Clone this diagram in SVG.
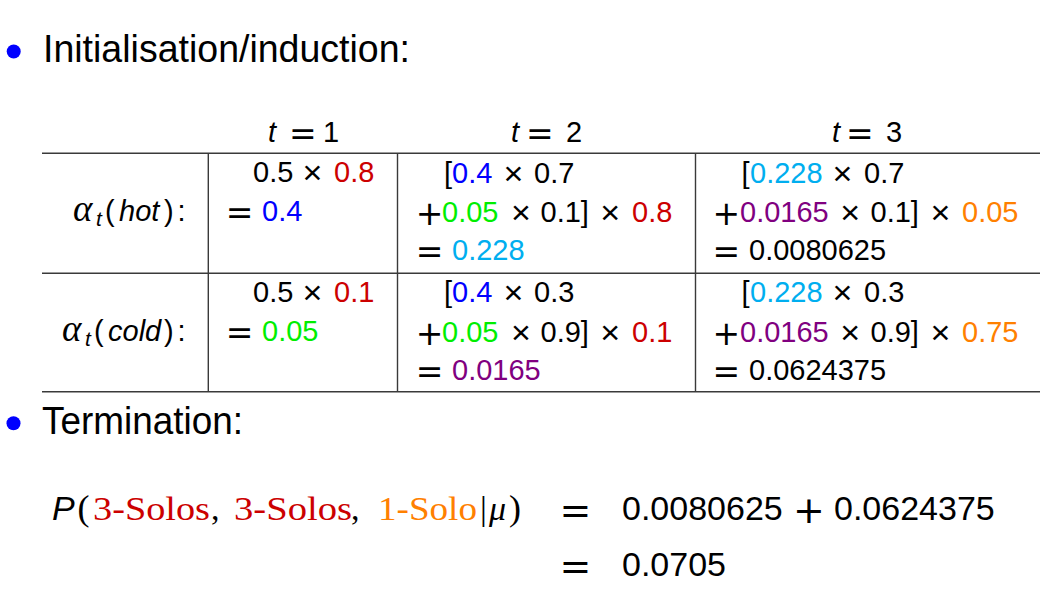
<svg xmlns="http://www.w3.org/2000/svg" width="1053" height="602" viewBox="0 0 1053 602">
<style>
text{font-family:"Liberation Sans",Arial,sans-serif;font-size:29px;fill:#000}
.h{font-size:38px}
.m{font-family:"DejaVu Sans",sans-serif;font-size:33px}
.x{font-size:34px}
.mb{font-family:"DejaVu Sans",sans-serif;font-size:38px}
.it{font-style:italic}
.sr{font-family:"Liberation Serif","Times New Roman",serif}
.big{font-size:34px}
.al{font-size:37px}
.bl{fill:#0000FF}.rd{fill:#CC0000}.gr{fill:#00EE00}.cy{fill:#00AEEF}.pu{fill:#800080}.or{fill:#FF8000}
.grid line{stroke:#3a3a3a;stroke-width:1.4}
</style>
<rect width="1053" height="602" fill="#fff"/>

<g id="title">
<circle cx="13.7" cy="51.5" r="7" fill="#0000FF"/>
<text class="h" x="43" y="62" textLength="367" lengthAdjust="spacingAndGlyphs">Initialisation/induction:</text>
</g>

<g id="table-grid" class="grid">
<line x1="42" y1="153.3" x2="1040" y2="153.3"/>
<line x1="42" y1="273.2" x2="1040" y2="273.2"/>
<line x1="42" y1="391.8" x2="1040" y2="391.8"/>
<line x1="208.3" y1="153.3" x2="208.3" y2="391.8"/>
<line x1="397.5" y1="153.3" x2="397.5" y2="391.8"/>
<line x1="695.5" y1="153.3" x2="695.5" y2="391.8"/>
</g>

<g id="header">
<text y="142"><tspan class="it" x="268">t</tspan><tspan class="m" x="289" dy="3">=</tspan><tspan x="323" dy="-3">1</tspan></text>
<text y="142"><tspan class="it" x="511">t</tspan><tspan class="m" x="526" dy="3">=</tspan><tspan x="566" dy="-3">2</tspan></text>
<text y="142"><tspan class="it" x="832">t</tspan><tspan class="m" x="846" dy="3">=</tspan><tspan x="886" dy="-3">3</tspan></text>
</g>

<g id="row-hot">
<text y="221"><tspan class="sr it al" x="73">α</tspan><tspan class="it" x="96" dy="5" style="font-size:21px">t</tspan><tspan x="105" dy="-5">(</tspan><tspan class="it" x="119">hot</tspan><tspan x="164">)</tspan><tspan x="177.5">:</tspan></text>
<text y="182"><tspan x="253">0.5</tspan><tspan class="x" x="302.6" dy="2">×</tspan><tspan class="rd" x="334" dy="-2">0.8</tspan></text>
<text y="221"><tspan class="m" x="225.7" dy="3">=</tspan><tspan class="bl" x="262" dy="-3">0.4</tspan></text>
<text y="182.5"><tspan x="444">[</tspan><tspan class="bl" x="452">0.4</tspan><tspan class="x" x="503.6" dy="2">×</tspan><tspan x="534" dy="-2">0.7</tspan></text>
<text y="221.5"><tspan class="m" x="415.7" dy="3">+</tspan><tspan class="gr" x="442" dy="-3">0.05</tspan><tspan class="x" x="510.9" dy="2">×</tspan><tspan x="540.5" dy="-2">0.1]</tspan><tspan class="x" x="600.3" dy="2">×</tspan><tspan class="rd" x="632" dy="-2">0.8</tspan></text>
<text y="260"><tspan class="m" x="415.7" dy="3">=</tspan><tspan class="cy" x="452" dy="-3">0.228</tspan></text>
<text y="182.5"><tspan x="741.5">[</tspan><tspan class="cy" x="750">0.228</tspan><tspan class="x" x="832.6" dy="2">×</tspan><tspan x="864" dy="-2">0.7</tspan></text>
<text y="221.5"><tspan class="m" x="712.4" dy="3">+</tspan><tspan class="pu" x="740" dy="-3">0.0165</tspan><tspan class="x" x="840.3" dy="2">×</tspan><tspan x="870.5" dy="-2">0.1]</tspan><tspan class="x" x="930.6" dy="2">×</tspan><tspan class="or" x="962" dy="-2">0.05</tspan></text>
<text y="260"><tspan class="m" x="712.4" dy="3">=</tspan><tspan x="749" dy="-3">0.0080625</tspan></text>
</g>

<g id="row-cold">
<text y="341"><tspan class="sr it al" x="62">α</tspan><tspan class="it" x="85" dy="5" style="font-size:21px">t</tspan><tspan x="94" dy="-5">(</tspan><tspan class="it" x="108">cold</tspan><tspan x="164">)</tspan><tspan x="177.5">:</tspan></text>
<text y="302"><tspan x="253">0.5</tspan><tspan class="x" x="302.6" dy="2">×</tspan><tspan class="rd" x="334" dy="-2">0.1</tspan></text>
<text y="341"><tspan class="m" x="225.7" dy="3">=</tspan><tspan class="gr" x="262" dy="-3">0.05</tspan></text>
<text y="302"><tspan x="444">[</tspan><tspan class="bl" x="452">0.4</tspan><tspan class="x" x="503.6" dy="2">×</tspan><tspan x="534" dy="-2">0.3</tspan></text>
<text y="341.5"><tspan class="m" x="415.7" dy="3">+</tspan><tspan class="gr" x="442" dy="-3">0.05</tspan><tspan class="x" x="510.9" dy="2">×</tspan><tspan x="540.5" dy="-2">0.9]</tspan><tspan class="x" x="600.3" dy="2">×</tspan><tspan class="rd" x="632" dy="-2">0.1</tspan></text>
<text y="380"><tspan class="m" x="415.7" dy="3">=</tspan><tspan class="pu" x="452" dy="-3">0.0165</tspan></text>
<text y="302"><tspan x="741.5">[</tspan><tspan class="cy" x="750">0.228</tspan><tspan class="x" x="832.6" dy="2">×</tspan><tspan x="864" dy="-2">0.3</tspan></text>
<text y="341.5"><tspan class="m" x="712.4" dy="3">+</tspan><tspan class="pu" x="740" dy="-3">0.0165</tspan><tspan class="x" x="840.3" dy="2">×</tspan><tspan x="870.5" dy="-2">0.9]</tspan><tspan class="x" x="930.6" dy="2">×</tspan><tspan class="or" x="962" dy="-2">0.75</tspan></text>
<text y="380"><tspan class="m" x="712.4" dy="3">=</tspan><tspan x="749" dy="-3">0.0624375</tspan></text>
</g>

<g id="termination">
<circle cx="13.5" cy="423.3" r="7" fill="#0000FF"/>
<text class="h" x="42" y="433.5" textLength="201" lengthAdjust="spacingAndGlyphs">Termination:</text>
</g>

<g id="formula">
<text class="big it" x="52" y="520">P</text>
<text class="sr" x="77.5" y="520" style="font-size:36px">(</text>
<text class="sr big rd" x="93" y="520" textLength="117" lengthAdjust="spacingAndGlyphs">3-Solos</text>
<text class="sr big" x="211" y="520">,</text>
<text class="sr big rd" x="234" y="520" textLength="118" lengthAdjust="spacingAndGlyphs">3-Solos</text>
<text class="sr big" x="351" y="520">,</text>
<text class="sr big or" x="378" y="520" textLength="99" lengthAdjust="spacingAndGlyphs">1-Solo</text>
<text class="sr big" x="480" y="520">|</text>
<text class="sr big it" x="489" y="520">μ</text>
<text class="sr" x="509" y="520" style="font-size:36px">)</text>
<text class="mb" x="559.5" y="523">=</text>
<text class="big" x="622" y="520">0.0080625</text>
<text class="mb" x="793" y="523">+</text>
<text class="big" x="834" y="520">0.0624375</text>
<text class="mb" x="559.5" y="579">=</text>
<text class="big" x="622" y="576">0.0705</text>
</g>
</svg>
